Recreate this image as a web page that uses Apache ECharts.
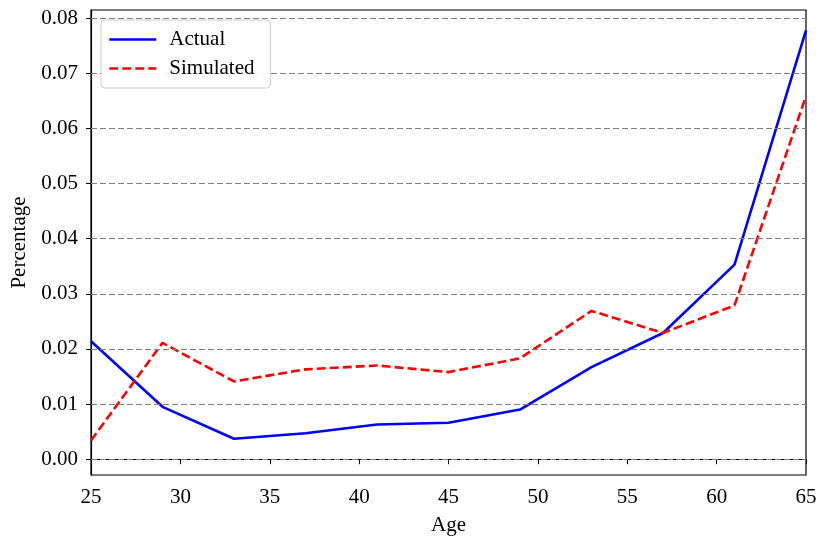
<!DOCTYPE html>
<html>
<head>
<meta charset="utf-8">
<script src="https://cdn.jsdelivr.net/npm/echarts@6/dist/echarts.min.js"></script>
<style>
html, body { margin: 0; padding: 0; background: #fff; }
#main { width: 820px; height: 541px; }
</style>
</head>
<body>
<div id="main"></div>
<script>
var ages = [25, 29, 33, 37, 41, 45, 49, 53, 57, 61, 65];
var actual = [0.0214, 0.0095, 0.0037, 0.0047, 0.0063, 0.0066, 0.0090, 0.0167, 0.0229, 0.0353, 0.0778];
var simulated = [0.0034, 0.0211, 0.0141, 0.0163, 0.0170, 0.0158, 0.0183, 0.0269, 0.0229, 0.0279, 0.0659];
var yTicks = [0, 0.01, 0.02, 0.03, 0.04, 0.05, 0.06, 0.07, 0.08];

var chart = echarts.init(document.getElementById('main'));
var font = 'Liberation Serif';

function pairs(xs, ys) {
    var out = [];
    for (var i = 0; i < xs.length; i++) out.push([xs[i], ys[i]]);
    return out;
}

// horizontal dashed grid lines at the y ticks
var gridLines = [];
for (var i = 0; i < yTicks.length; i++) gridLines.push({ yAxis: yTicks[i] });

var option = {
    animation: false,
    backgroundColor: '#fff',
    textStyle: { fontFamily: font },
    grid: {
        left: 91, right: 14, top: 10, bottom: 66,
        show: true, borderColor: '#000', borderWidth: 1.2,
        containLabel: false
    },
    legend: {
        orient: 'vertical',
        left: 101, top: 20,
        z: 20,
        padding: [9, 16, 9, 7],
        itemGap: 8,
        itemWidth: 47, itemHeight: 14,
        borderColor: '#cccccc', borderWidth: 1, borderRadius: 4,
        backgroundColor: 'rgba(255,255,255,0.9)',
        itemStyle: { opacity: 0 },
        lineStyle: { width: 2.6 },
        textStyle: { fontFamily: font, fontSize: 21, color: '#000', padding: [0, 0, 0, 8] },
        data: ['Actual', 'Simulated']
    },
    xAxis: {
        type: 'value', min: 25, max: 65, interval: 5,
        name: 'Age', nameLocation: 'middle', nameGap: 40,
        nameTextStyle: { fontFamily: font, fontSize: 21, color: '#000' },
        axisLine: { show: true, lineStyle: { color: '#000', width: 1.2 } },
        axisTick: { show: true, inside: false, length: 5, lineStyle: { color: '#000' } },
        axisLabel: { fontFamily: font, fontSize: 21, color: '#000', margin: 12 },
        splitLine: { show: false }
    },
    yAxis: {
        type: 'value', min: -0.00287, max: 0.0815,
        name: 'Percentage', nameLocation: 'middle', nameGap: 60,
        nameTextStyle: { fontFamily: font, fontSize: 21, color: '#000' },
        axisLine: { show: true, lineStyle: { color: '#000', width: 1.2 } },
        axisTick: { show: true, inside: false, length: 5, customValues: yTicks, lineStyle: { color: '#000' } },
        axisLabel: {
            fontFamily: font, fontSize: 21, color: '#000', margin: 13,
            customValues: yTicks,
            formatter: function (v) { return v.toFixed(2); }
        },
        splitLine: { show: false }
    },
    series: [
        {
            name: 'Actual', type: 'line', data: pairs(ages, actual),
            symbol: 'none', z: 2,
            lineStyle: { color: '#0000ff', width: 2.6 },
            itemStyle: { color: '#0000ff' },
            markLine: {
                silent: true, symbol: 'none', label: { show: false },
                lineStyle: { color: '#808080', type: [6, 3], width: 1.2 },
                data: gridLines
            }
        },
        {
            name: 'Simulated', type: 'line', data: pairs(ages, simulated),
            symbol: 'none', z: 2,
            lineStyle: { color: '#ff0000', width: 2.6, type: [9, 4] },
            itemStyle: { color: '#ff0000' }
        }
    ]
};
chart.setOption(option);
</script>
</body>
</html>
